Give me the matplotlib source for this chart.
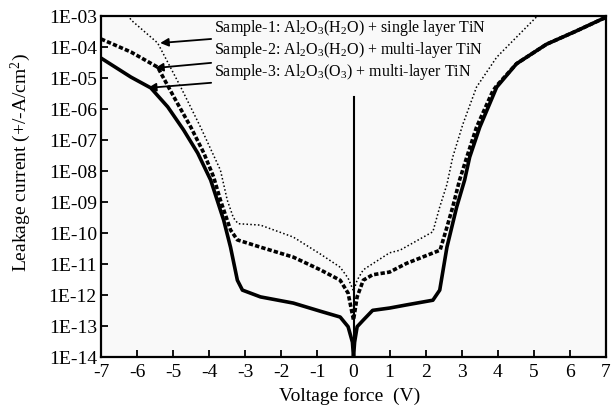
import matplotlib
matplotlib.use("Agg")
import matplotlib.pyplot as plt
import numpy as np
from matplotlib.ticker import FixedLocator, FuncFormatter

plt.rcParams['font.family'] = ['Liberation Serif', 'DejaVu Serif']
plt.rcParams['mathtext.fontset'] = 'custom'
plt.rcParams['mathtext.rm'] = 'Liberation Serif'
plt.rcParams['mathtext.it'] = 'Liberation Serif:italic'

# ---- data ----
v1 = [-6.4, -6.17, -5.43, -4.79, -4.24, -3.69, -3.5, -3.33, -3.2, -2.58, -1.67, -0.92,
      -0.37, -0.15, 0.0, 0.1, 0.27, 1.0, 1.29, 2.2, 2.39, 2.59, 2.75, 3.03, 3.41, 3.97,
      4.6, 5.07, 5.3]
i1 = [2.3e-3, 7.5e-4, 1.35e-4, 5.1e-6, 2.6e-7, 1.07e-8, 1.15e-9, 3.1e-10, 2.0e-10,
      1.8e-10, 7.4e-11, 2.1e-11, 7.9e-12, 3.5e-12, 1.35e-12, 3.0e-12, 6.5e-12, 2.3e-11,
      2.8e-11, 1.1e-10, 6.9e-10, 3.7e-9, 2.8e-8, 3.2e-7, 5.1e-6, 4.7e-5, 2.6e-4, 9.3e-4,
      1.6e-3]

v2 = [-7.0, -6.17, -5.43, -4.98, -4.51, -4.15, -3.88, -3.69, -3.41, -3.22, -2.58, -1.67,
      -0.92, -0.37, -0.15, 0.0, 0.1, 0.27, 0.53, 1.0, 1.47, 2.4, 2.59, 2.75, 2.94, 3.14,
      3.41, 3.86, 3.97, 4.52, 5.35, 6.18, 6.9, 7.0]
i2 = [1.82e-4, 6.9e-5, 2.24e-5, 2.45e-6, 2.6e-7, 3.8e-8, 6.5e-9, 1.15e-9, 1.26e-10,
      6.0e-11, 3.5e-11, 1.67e-11, 6.5e-12, 3.0e-12, 1.15e-12, 1.55e-13, 8.7e-13, 3.0e-12,
      4.5e-12, 5.5e-12, 1.05e-11, 2.8e-11, 1.55e-10, 6.9e-10, 5.1e-9, 2.8e-8, 2.6e-7,
      3.8e-6, 5.7e-6, 2.9e-5, 1.23e-4, 3.3e-4, 8.1e-4, 8.9e-4]

v3 = [-7.0, -6.17, -5.62, -5.15, -4.71, -4.32, -3.96, -3.6, -3.41, -3.22, -3.08, -2.58,
      -1.67, -0.92, -0.37, -0.15, -0.03, 0.0, 0.03, 0.1, 0.27, 0.53, 1.0, 1.47, 2.2, 2.39,
      2.59, 2.86, 3.08, 3.22, 3.5, 3.97, 4.52, 5.35, 6.18, 6.9, 7.0]
i3 = [4.4e-5, 1.07e-5, 4.8e-6, 1.17e-6, 2.1e-7, 3.8e-8, 5.1e-9, 2.6e-10, 3.5e-11, 3.0e-12,
      1.44e-12, 8.7e-13, 5.5e-13, 3.0e-13, 1.95e-13, 9.5e-14, 3e-14, 1e-14, 3e-14, 9.5e-14,
      1.55e-13, 3.2e-13, 3.8e-13, 4.8e-13, 6.8e-13, 1.44e-12, 3.5e-11, 6.9e-10, 5.1e-9,
      2.8e-8, 2.6e-7, 5.1e-6, 2.9e-5, 1.23e-4, 3.3e-4, 8.1e-4, 8.9e-4]

labels = ["Sample-1: Al$_2$O$_3$(H$_2$O) + single layer TiN",
          "Sample-2: Al$_2$O$_3$(H$_2$O) + multi-layer TiN",
          "Sample-3: Al$_2$O$_3$(O$_3$) + multi-layer TiN"]
arrow_tips = [(-5.36, 1.35e-4), (-5.50, 2.1e-5), (-5.70, 4.8e-6)]
text_pos = [(-3.87, 4.1e-4), (-3.87, 7.9e-5), (-3.87, 1.55e-5)]
vline_top = 2.5e-6
xticks = list(range(-7, 8))
yexps = list(range(-14, -2))

# ---- figure ----
fig = plt.figure(figsize=(6.13, 4.09), dpi=100)
ax = fig.add_axes([0.1648, 0.1271, 0.8238, 0.8337])
ax.set_facecolor('#f9f9f9')

ax.plot(v1, i1, color='black', lw=1.1, ls=(0, (1, 1.5)))
ax.plot(v2, i2, color='black', lw=2.6, ls=(0, (1.2, 0.6)))
ax.plot(v3, i3, color='black', lw=2.6, ls='-')
ax.plot([0, 0], [1e-14, vline_top], color='black', lw=1.5)

ax.set_yscale('log')
ax.set_xlim(-7, 7)
ax.set_ylim(1e-14, 1e-3)
ax.xaxis.set_major_locator(FixedLocator(xticks))
ax.yaxis.set_major_locator(FixedLocator([10.0 ** e for e in yexps]))
ax.yaxis.set_minor_locator(FixedLocator([]))
ax.yaxis.set_major_formatter(FuncFormatter(lambda y, p: "1E-%02d" % round(-np.log10(y))))
ax.xaxis.set_major_formatter(FuncFormatter(lambda x, p: "%d" % x))
ax.tick_params(direction='in', length=5, width=1.3, labelsize=14)
ax.tick_params(axis='x', pad=5)
ax.tick_params(axis='y', pad=3)
for s in ax.spines.values():
    s.set_linewidth(1.6)

ax.set_xlabel("Voltage force  (V)", fontsize=14)
ax.xaxis.set_label_coords(0.493, -0.088)
ax.set_ylabel("Leakage current (+/-A/cm$^2$)", fontsize=14)
ax.yaxis.set_label_coords(-0.135, 0.57)

for lab, tip, tp in zip(labels, arrow_tips, text_pos):
    ax.annotate(lab, xy=tip, xytext=tp, fontsize=11.5, va='center', ha='left',
                arrowprops=dict(arrowstyle='-|>', color='black', lw=1.3,
                                mutation_scale=12, shrinkA=0, shrinkB=0))

fig.savefig("out.png", dpi=100)
